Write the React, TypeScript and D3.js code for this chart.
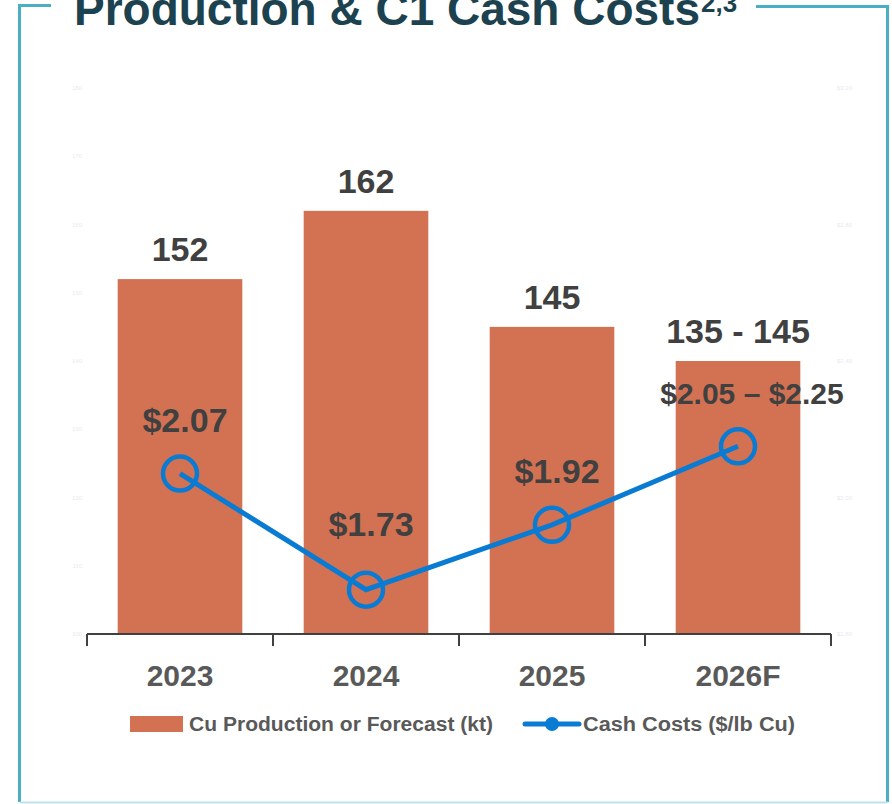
import * as d3 from 'd3';
import React from 'react';

// chart data
const categories = ['2023', '2024', '2025', '2026F'];
const production = [152, 162, 145, 140]; // 2026F drawn at the guidance midpoint
const productionLabels = ['152', '162', '145', '135 - 145'];
const cashCosts = [2.07, 1.73, 1.92, 2.15];
const cashCostLabels = ['$2.07', '$1.73', '$1.92', '$2.05 – $2.25'];
const leftTicks = [100, 110, 120, 130, 140, 150, 160, 170, 180];
const rightTicks = [1.6, 2.0, 2.4, 2.8, 3.2];

const W = 892;
const H = 804;
const barColor = '#d37253';
const lineColor = '#0a7bd3';
const frameColor = '#4aaec4';
const font = '"Liberation Sans", Arial, sans-serif';

const App = () => {
    // scales
    const x = d3.scaleBand()
        .domain(categories)
        .range([87, 831])
        .paddingInner(0.33)
        .paddingOuter(0.165);

    const yL = d3.scaleLinear().domain([100, 180]).range([634, 88]);
    const yR = d3.scaleLinear().domain([1.6, 3.2]).range([634, 88]);

    const cx = (c) => x(c) + x.bandwidth() / 2;

    const line = d3.line()
        .x((d) => cx(d.c))
        .y((d) => yR(d.v));

    const points = categories.map((c, i) => ({ c, v: cashCosts[i] }));

    // label nudges (layout only)
    const costLabelDy = [42, 54, 42, 42];
    const costLabelDx = [5, 5, 5, 14];

    const fmtR = d3.format('$.2f');

    return (
        <div style={{ position: 'absolute', left: 0, top: 0 }}>
            <svg width={W} height={H} style={{ display: 'block', background: '#fff' }}>
                {/* frame */}
                <g fill="none" stroke={frameColor} strokeWidth={3}>
                    <path d="M51,5.5 H19.5 V802" />
                    <path d="M756,6.5 H887.5 V802" />
                    <path d="M19.5,802.5 H887.5" stroke="#bfe3ec" strokeWidth={2} />
                </g>

                {/* title */}
                <text x={74} y={25} fontFamily={font} fontWeight="bold" fontSize={46}
                    fill="#1c4250" textLength={626} lengthAdjust="spacingAndGlyphs">
                    Production &amp; C1 Cash Costs
                </text>
                <text x={701} y={12} fontFamily={font} fontWeight="bold" fontSize={26}
                    fill="#1c4250">2,3</text>

                {/* faint axis tick labels */}
                <g fontFamily={font} fontSize={6} fill="#e6ebf3">
                    {leftTicks.map((t) => (
                        <text key={'l' + t} x={82} y={yL(t) + 2} textAnchor="end">{t}</text>
                    ))}
                    {rightTicks.map((t) => (
                        <text key={'r' + t} x={837} y={yR(t) + 2}>{fmtR(t)}</text>
                    ))}
                </g>

                {/* bars */}
                {categories.map((c, i) => (
                    <rect key={c} x={x(c)} y={yL(production[i])} width={x.bandwidth()}
                        height={yL(100) - yL(production[i])} fill={barColor} />
                ))}

                {/* bar labels */}
                <g fontFamily={font} fontWeight="bold" fontSize={34} fill="#404040" textAnchor="middle">
                    {categories.map((c, i) => (
                        <text key={c} x={cx(c)} y={yL(production[i]) - 18}>{productionLabels[i]}</text>
                    ))}
                </g>

                {/* x axis */}
                <g stroke="#404040" strokeWidth={2} fill="none">
                    <line x1={87} x2={831} y1={634} y2={634} />
                    {[...categories.map((c) => x(c) - x.step() * 0.165), 831].map((tx, i) => (
                        <line key={i} x1={tx} x2={tx} y1={634} y2={646} />
                    ))}
                </g>
                <g fontFamily={font} fontWeight="bold" fontSize={30} fill="#595959" textAnchor="middle">
                    {categories.map((c) => (
                        <text key={c} x={cx(c)} y={686}>{c}</text>
                    ))}
                </g>

                {/* cash cost line */}
                <path d={line(points)} fill="none" stroke={lineColor} strokeWidth={5} />
                {points.map((p) => (
                    <circle key={p.c} cx={cx(p.c)} cy={yR(p.v)} r={17} fill="none"
                        stroke={lineColor} strokeWidth={4.5} />
                ))}
                <g fontFamily={font} fontWeight="bold" fill="#404040" textAnchor="middle">
                    {points.map((p, i) => (
                        <text key={p.c} x={cx(p.c) + costLabelDx[i]} y={yR(p.v) - costLabelDy[i]}
                            fontSize={i === 3 ? 30 : 34}>{cashCostLabels[i]}</text>
                    ))}
                </g>

                {/* legend */}
                <rect x={130} y={716} width={53} height={16} fill={barColor} />
                <text x={189} y={731} fontFamily={font} fontWeight="bold" fontSize={20}
                    fill="#595959" textLength={304} lengthAdjust="spacingAndGlyphs">
                    Cu Production or Forecast (kt)
                </text>
                <line x1={525} x2={579} y1={724} y2={724} stroke={lineColor} strokeWidth={5} strokeLinecap="round" />
                <circle cx={552} cy={724} r={7} fill={lineColor} />
                <text x={583} y={731} fontFamily={font} fontWeight="bold" fontSize={20}
                    fill="#595959" textLength={212} lengthAdjust="spacingAndGlyphs">
                    Cash Costs ($/lb Cu)
                </text>
            </svg>
        </div>
    );
};

export default App;
